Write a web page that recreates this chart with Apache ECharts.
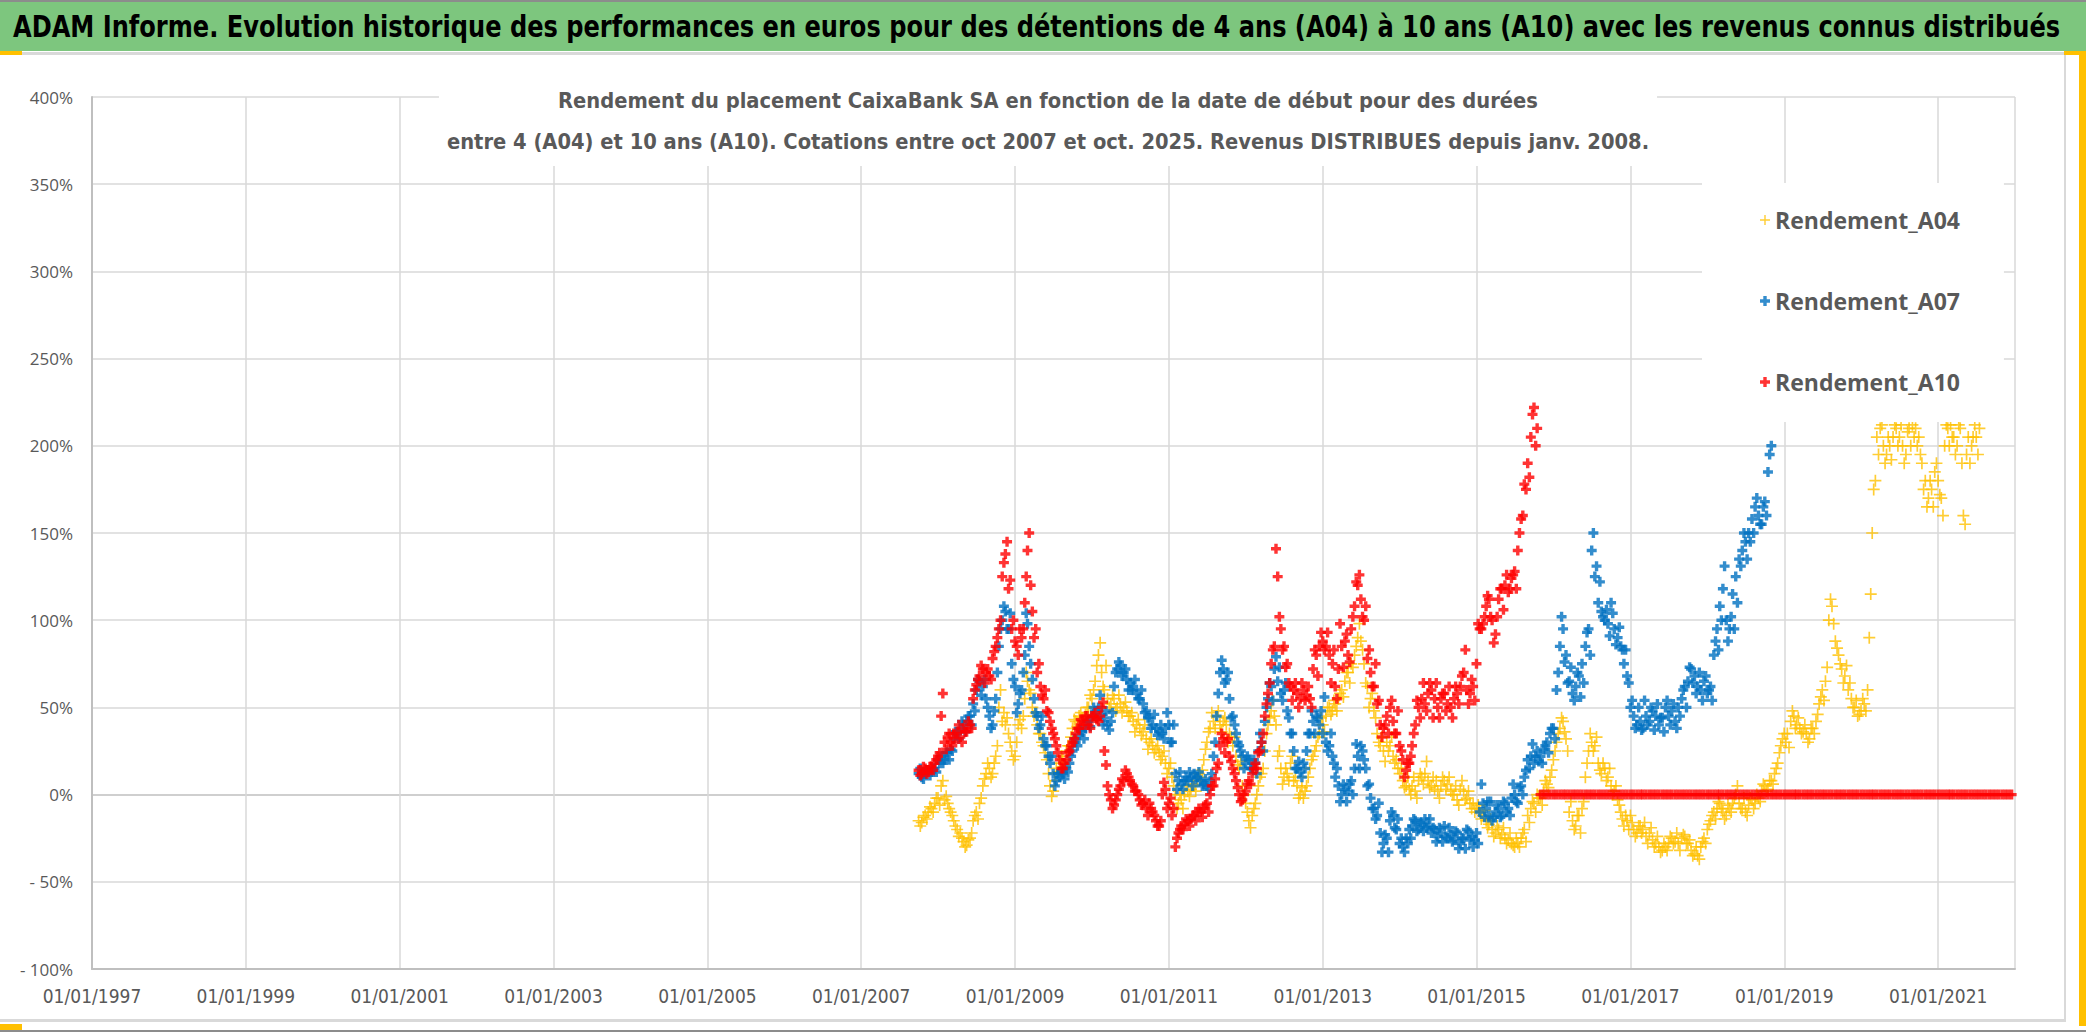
<!DOCTYPE html>
<html>
<head>
<meta charset="utf-8">
<script src="https://cdn.jsdelivr.net/npm/echarts@6/dist/echarts.min.js"></script>
<style>
html,body{margin:0;padding:0;background:#fff;}
#chart{width:2086px;height:1032px;}
</style>
</head>
<body>
<div id="chart"></div>
<script>
// ---- Data (percent returns) ----
// Main readings: one value every half-month (1st and 16th) starting 1 Oct 2007.
// *_MID readings: the cloud read again half-way between two main readings (8th / 23rd).
const START_YEAR = 2007, START_HALF_MONTH = 18; // 18 = 1 October
const seriesNames = ['Rendement_A04', 'Rendement_A07', 'Rendement_A10'];
const TITLE = 'ADAM Informe. Evolution historique des performances en euros pour des détentions de 4 ans (A04) à 10 ans (A10) avec les revenus connus distribués';
const SUBTITLE_1 = 'Rendement du placement CaixaBank SA en fonction de la date de début pour des durées';
const SUBTITLE_2 = 'entre 4 (A04) et 10 ans (A10). Cotations entre oct 2007 et oct. 2025. Revenus DISTRIBUES depuis janv. 2008.';

const A04 = [
 -15,-16,-12,-10,-8,-5,-2,5,-3,-5,
 -10,-15,-20,-22,-27,-29,-25,-15,-10,-5,
 5,12,15,12,22,50,42,40,35,25,
 22,40,38,55,65,58,45,40,35,28,
 20,5,2,15,18,20,25,28,38,42,
 45,44,46,50,55,65,80,70,60,55,
 52,55,50,52,50,48,45,42,40,38,
 36,32,30,28,26,24,22,18,15,10,
 0,-5,-3,0,2,3,5,8,10,20,
 30,38,42,45,40,42,40,35,28,22,
 15,5,-5,-15,-12,-5,5,12,25,40,
 48,45,22,15,10,12,18,8,5,0,
 -2,5,15,22,28,35,40,45,50,48,
 52,55,60,65,70,75,80,90,88,75,
 62,55,48,35,28,25,30,28,22,20,
 12,8,5,3,5,2,8,10,12,8,
 5,3,2,5,8,6,2,0,-3,3,
 2,-2,-5,-5,-8,-10,-12,-15,-17,-20,
 -22,-20,-23,-25,-26,-28,-30,-28,-25,-20,
 -12,-8,-5,0,-2,2,6,10,20,30,
 38,42,32,-10,-15,-18,-12,-8,10,25,
 30,28,18,12,15,10,5,2,-3,-10,
 -18,-15,-12,-20,-22,-18,-20,-24,-22,-26,
 -28,-30,-32,-30,-28,-25,-27,-28,-25,-24,
 -28,-32,-34,-35,-30,-25,-20,-15,-10,-8,
 -5,-10,-12,-8,-5,0,-5,-8,-10,-6,
 -3,-5,-2,2,5,3,8,12,18,28,
 35,35,42,45,40,38,36,35,32,38,
 42,52,60,65,100,108,88,80,72,68,
 60,55,50,45,48,52,60,115,175,205,
 210,200,195,200,205,210,205,200,195,210,
 212,210,205,190,180,170,175,185,180,170,
 200,210,212,205,200,210,160,195,190,205,
 205,210
];
const A04_MID = [
 -18,-13,-14,-7,-10,-2,-6, 8, -1,-8,
 -12,-18,-24,-25,-30,-26,-22, -12,-14,-2,
 9,18,10,18, 28,60,47,44,30, 20,30, 43,45,
 70,60,50, 47,35,30,24,12, -1,8, 13,22,16,28,33,
 43,39,47,40,50, 57,60, 74,87, 62,74,50,57,
 48,57,47,53,45,47, 36,43,34,40, 26,32,24,28,20,25,
 12,18,5, -8,0,-8, 5,-1,6,2,12,14,
 26,36,47,38,48,36,44,30,33,
 33,17, 19,0,-10,-19,-8,0, 10,15, 35,44,54,40,
 25,6,15,8,22, 10,-2,4,2,10, 20,25,33,
 44,36,50,46,54,48,58, 56,70,64,73, 85,98,83,
 64,50,58,44, 30,33,19,25,33,18,15, 15,4,10,0,
 10,-2,12,6,19,4,10, 8,-2,10,3,10,0, 5,-6,8,-3,2,-8,
 -10,-6,-14,-9, -19,-14,-24,-18,-25,-19,-28,-22,-29,-25,-30,
 -22,-27,-16, -4,-10,-2,-6,8,4, 14,25,35, 44,36,25,
 -4,-20,-12,-22,-4, 18,35,25,33, 14,18,8,15,0,5,-6,
 -14,-12,-20,-16,-24,-18,
 -22,-16,-28,-19,-30,-24,-33,-28,-32,-24,-28,-22,
 -32,-23,-28,-26,-35,-30,-37,-27,-28,-17,
 -12,-14,-4,-8,-14,-6,-10,
 -2,5,-8,-2,-12,-2,-8,0,-4,6,2,8,
 6,15,24,32,30, 27,
 48,38,44,35,40,30,38,35,46, 56,54,73, 112,98,
 84,75,64,74, 64,50,54,46,55,48, 90,150,180,
 195,212,190,205,192,212,200,212,190,208,200,205,
 200,195,175,165,180,165,190,172,160,
 212,200,205,195,212,190,155,205,200,212,195
];

const A07 = [
 12,10,12,14,13,15,20,22,20,24,
 26,32,35,38,40,42,45,52,60,65,
 62,55,45,40,55,85,100,105,95,75,
 62,52,60,80,98,75,55,45,40,32,
 28,18,12,8,10,12,15,18,25,30,
 34,36,38,42,45,48,50,46,44,40,
 42,62,72,74,70,66,64,62,58,55,
 52,48,44,40,38,36,35,38,40,30,
 12,8,6,8,8,10,12,10,8,6,
 5,8,22,45,70,72,66,55,45,35,
 28,22,18,20,15,18,25,30,42,55,
 62,72,65,58,60,48,35,25,15,13,
 18,25,35,42,45,40,35,30,28,22,
 10,5,0,3,2,8,15,22,28,20,
 5,-2,-8,-12,-22,-28,-25,-15,-12,-20,
 -28,-30,-25,-20,-18,-15,-20,-17,-14,-18,
 -22,-20,-24,-22,-18,-25,-23,-26,-22,-28,
 -25,-20,-26,-30,-22,-10,-5,-8,-12,-15,
 -10,-8,-12,-5,-8,-2,0,-5,5,10,
 20,22,18,25,22,26,30,35,38,60,
 85,95,80,65,58,62,68,75,85,95,
 140,125,110,105,100,98,110,95,90,85,
 75,68,50,45,40,42,38,45,42,48,
 45,40,44,50,45,48,42,50,55,62,
 65,72,68,62,60,65,58,62,80,95,
 108,118,100,95,115,125,135,140,145,150,
 158,165,160,155,168,185,200
];
const A07_MID = [
 15,9,14,11,15,13,18, 18,24,20,25, 36,32,42,36,45,40,48,
 66,57,66,50, 38,48,70, 95,108,95,104, 66,47,58,70,
 104,85,66, 47,38,45,28,22, 22,5,12, 13,9,13,22,
 32,28,37,32,42, 39,50,44,57,40,48, 37,47,70,
 76,68,72,60, 60,66,55,60,47, 44,38,46,34,40,32,
 47,30,40, 3,13,3,10, 13,5,9,13,5,9,3,12, 30,58,
 77,64,70,44, 40,30, 25,15,22,15,20,12, 35,25,50,
 64,54,79, 73,54,64, 44,35,15, 19,10,15,
 35,48,35,44,48, 56,25,35,18, 15,-4, 6,-4,6,0,
 29,15,25,15, 6,-8,-14,-5, -33,-23,-33, -10,-19,-14,-25,
 -33,-28,-25, -14,-21,-16,-21,-19,-14,-19,
 -27,-19,-27,-24,-19,-27, -21,-31,-25,-31,-21,-24,-26,-28,
 6,-13,-4, -4,-13,-6,-13,-4,-10,-12, 6,-4,4,0,14,
 15,29,22,19, 18,28,24,38,32, 70,102,76,64,
 73,54,70,56, 64,93,80, 150,131, 122,102,
 106,91,104,86,96,83, 83,64, 54,38,50,
 37,54,40,50,37,52,44,36,54,40,52,38,45,
 60,50,73,64,58,70,54,68,60,54,
 88,83,100, 131, 88,102,95,110, 131,150,135,145,
 150,170,155,165,160, 195
];

const A10 = [
 14,12,15,13,16,18,22,45,30,33,
 30,35,36,33,38,36,40,55,63,68,
 72,70,68,78,85,95,125,138,118,95,
 88,80,90,110,140,120,90,70,62,55,
 48,42,35,28,20,15,20,25,30,35,
 38,42,45,40,44,47,42,50,25,5,
 -3,-6,0,5,8,12,8,5,2,-3,
 -5,-8,-5,-10,-15,-18,0,3,-5,-12,
 -30,-22,-18,-17,-15,-14,-12,-10,-10,-8,
 -5,0,5,15,28,32,30,22,15,8,
 0,-3,2,8,12,18,24,30,45,58,
 75,85,125,95,85,75,62,60,58,55,
 60,57,55,72,80,85,88,85,80,75,
 62,72,85,88,80,95,108,120,112,100,
 78,70,62,52,40,38,45,50,42,35,
 28,20,14,18,28,40,50,55,52,58,
 60,55,50,55,58,52,50,55,58,62,
 70,60,58,62,75,95,98,108,112,100,
 92,112,118,120,116,124,128,140,158,178,
 190,205,222,210,
 0,0,0,0,0,0,0,0,0,0,0,0,0,0,0,0,0,0,0,0,0,0,0,0,0,0,0,0,0,0,0,0,0,0,0,0,0,0,0,0,
 0,0,0,0,0,0,0,0,0,0,0,0,0,0,0,0,0,0,0,0,0,0,0,0,0,0,0,0,0,0,0,0,0,0,0,0,0,0,0,0,
 0,0,0,0,0,0,0,0,0,0,0,0,0,0,0,0,0,0,0,0,0,0,0,0,0,0,0,0,0,0,0,0,0,0,0,0,0,0,0,0,
 0,0,0,0,0,0,0,0,0,0,0,0,0,0,0,0,0,0,0,0,0,0,0,0,0,0,0,0
];
const A10_MID = [
 11,16,12,16,14,20,24, 58, 26,35,28,32,40,30,36,42,38,
 60,66,74,64,72,66, 82,90,100, 133,145,123,100,
 85,95,95,125, 150,105,95, 75,57,60,47,38,32,24, 15,18,
 24,28,32,38,43,40,45, 38,45,43,45,53, 17, 0,-8,-3,
 3,9,14,10,6, 2,0,-6,-3,-12,-8,-12,-18,-15, 7,-8,-2,-8,
 -25,-20,-20,-14,-18, -12,-15,-8,-13,-6,-10,5,9, 18,
 35,24,32, 19,12,4, -4,0,6, 6,15,15,25,35, 52,64,83,
 141, 102,83, 73,64, 54,64,50,64,54,62,50, 83,68,93,
 83,93,64,83, 55,98, 73,92,76,102, 122,126,102,108,
 83,62,75,54, 33,40,35,54,35,48, 25,10,18,22,
 35,54,44,64,48,64,44, 64,44,58,48,62,44,62,52,68,
 83,52,66,54, 98,95,102,114,102,87,102,
 118,106,126,118,126,118, 150,160,175,182, 218,200
];

const Y_TICKS = [-100,-50,0,50,100,150,200,250,300,350,400];
const X_AXIS_START = '1997-01-01', X_AXIS_END = '2022-01-01';

// ---- helpers ----
const DAY = 86400000;
const EPOCH = Date.UTC(1997,0,1);
function sampleDay(k){
  const m = START_HALF_MONTH + k;
  const y = START_YEAR + Math.floor(m/24);
  const mo = Math.floor((m%24)/2);
  const d = (m%2===0)?1:16;
  return (Date.UTC(y,mo,d) - EPOCH)/DAY;
}
function midDay(j){ return Math.round((sampleDay(j)+sampleDay(j+1))/2); }
function toPairs(main, mid){
  const out = [];
  main.forEach((v,k)=>out.push([sampleDay(k), v]));
  mid.forEach((v,j)=>out.push([midDay(j), v]));
  return out;
}
function pad(n){ return (n<10?'0':'')+n; }
function fmtDay(v){
  const t = new Date(EPOCH + Math.floor(v)*DAY);
  return pad(t.getUTCDate())+'/'+pad(t.getUTCMonth()+1)+'/'+t.getUTCFullYear();
}
const xMax = (Date.parse(X_AXIS_END) - Date.parse(X_AXIS_START))/DAY;

const mctx = document.createElement('canvas').getContext('2d');
function measure(text, weight, size, family){ mctx.font = weight+' '+size+'px '+family; return mctx.measureText(text).width; }

const PLUS_BOLD = 'path://M3.3,0 L6.7,0 L6.7,3.3 L10,3.3 L10,6.7 L6.7,6.7 L6.7,10 L3.3,10 L3.3,6.7 L0,6.7 L0,3.3 L3.3,3.3 Z';
const PLUS_THIN = 'path://M4.3,0 L5.7,0 L5.7,4.3 L10,4.3 L10,5.7 L5.7,5.7 L5.7,10 L4.3,10 L4.3,5.7 L0,5.7 L0,4.3 L4.3,4.3 Z';

const NARROW = "'Liberation Sans Narrow','DejaVu Sans Condensed','Liberation Sans',sans-serif";

// title sizing: condensed look obtained by horizontal scaling to the reference width
const TITLE_SIZE = 30, TITLE_W = 2047;
const titleScale = TITLE_W / measure(TITLE, 'bold', TITLE_SIZE, NARROW);
const SUB_W = 1203;
const subSize = Math.min(26, 24 * SUB_W / measure(SUBTITLE_2, 'bold', 24, NARROW));

const chart = echarts.init(document.getElementById('chart'), null, {renderer:'svg'});
const splitColors = Y_TICKS.map(v => v===0 ? '#BFBFBF' : '#D9D9D9');

chart.setOption({
  backgroundColor:'#ffffff',
  animation:false,
  graphic:[
    {type:'rect', z:-10, shape:{x:0,y:0,width:2086,height:51}, style:{fill:'#7DC67E'}},
    {type:'rect', z:-9, shape:{x:0,y:0,width:2086,height:2}, style:{fill:'#8C8C8C'}},
    {type:'rect', z:-9, shape:{x:0,y:52,width:2086,height:3}, style:{fill:'#D9D9D9'}},
    {type:'rect', z:-9, shape:{x:0,y:1019,width:2066,height:3}, style:{fill:'#D9D9D9'}},
    {type:'rect', z:-9, shape:{x:0,y:1030,width:2086,height:2}, style:{fill:'#8C8C8C'}},
    {type:'rect', z:-9, shape:{x:2064,y:55,width:2,height:966}, style:{fill:'#D9D9D9'}},
    {type:'rect', z:-8, shape:{x:2079,y:51,width:7,height:975}, style:{fill:'#FFC000'}},
    {type:'rect', z:-8, shape:{x:2064,y:51,width:22,height:4}, style:{fill:'#FFC000'}},
    {type:'rect', z:-8, shape:{x:0,y:51,width:22,height:4}, style:{fill:'#FFC000'}},
    {type:'rect', z:-8, shape:{x:0,y:1024,width:22,height:6}, style:{fill:'#FFC000'}},
    {type:'text', z:10, x:13, y:27, scaleX:titleScale, scaleY:1,
     style:{text:TITLE, fontFamily:NARROW, fontWeight:'bold', fontSize:TITLE_SIZE, fill:'#000000', align:'left', verticalAlign:'middle'}}
  ],
  title:[
    {text:SUBTITLE_1+'\n'+SUBTITLE_2,
     left:1040, top:72, textAlign:'center', padding:[8,8,4,8], backgroundColor:'#ffffff',
     textStyle:{fontFamily:NARROW, fontWeight:'bold', fontSize:subSize, color:'#595959', lineHeight:41}}
  ],
  legend:{
    orient:'vertical', left:1702, top:183, padding:[25,44,28,58],
    backgroundColor:'#ffffff', itemGap:57, itemWidth:10, itemHeight:10,
    selectedMode:false,
    textStyle:{fontFamily:"'Open Sans',sans-serif", fontWeight:'bold', fontSize:23, color:'#595959', lineHeight:24},
    data:[{name:seriesNames[0], icon:PLUS_THIN},{name:seriesNames[1], icon:PLUS_BOLD},{name:seriesNames[2], icon:PLUS_BOLD}]
  },
  grid:{left:92, right:71, top:97, bottom:63, containLabel:false},
  xAxis:{
    type:'value', min:0, max:xMax, interval:730.5,
    axisLine:{show:true, onZero:false, lineStyle:{color:'#BFBFBF', width:2}},
    axisTick:{show:false},
    splitLine:{show:true, lineStyle:{color:'#D9D9D9', width:1.5}},
    axisLabel:{formatter:fmtDay, margin:17, showMaxLabel:false, color:'#595959', fontFamily:NARROW, fontSize:19}
  },
  yAxis:{
    type:'value', min:Y_TICKS[0], max:Y_TICKS[Y_TICKS.length-1], interval:50,
    axisLine:{show:true, lineStyle:{color:'#BFBFBF', width:2}},
    axisTick:{show:false},
    splitLine:{show:true, lineStyle:{color:splitColors, width:1.5}},
    axisLabel:{margin:19, color:'#595959', fontFamily:"'Open Sans',sans-serif", fontSize:17,
      formatter:v => v<0 ? '- '+Math.abs(Math.round(v))+'%' : Math.round(v)+'%'}
  },
  series:[
    {name:seriesNames[0], type:'scatter', data:toPairs(A04, A04_MID), symbol:PLUS_THIN, symbolSize:12, itemStyle:{color:'#FFC000'}},
    {name:seriesNames[1], type:'scatter', data:toPairs(A07, A07_MID), symbol:PLUS_BOLD, symbolSize:10, itemStyle:{color:'#0070C0'}},
    {name:seriesNames[2], type:'scatter', data:toPairs(A10, A10_MID), symbol:PLUS_BOLD, symbolSize:10, itemStyle:{color:'#FF0000'}}
  ]
});
</script>
</body>
</html>
